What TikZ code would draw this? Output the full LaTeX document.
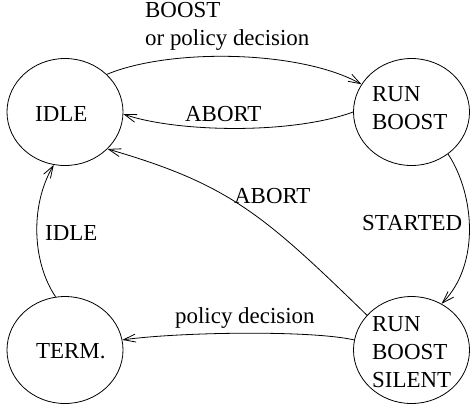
\documentclass[tikz,border=0pt]{standalone}
\usepackage{fontspec}
\setmainfont{Liberation Serif}
\usetikzlibrary{shapes.geometric,arrows.meta}
\begin{document}
\begin{tikzpicture}[x=1bp,y=-1bp,
  state/.style={draw, ellipse, minimum width=116bp, minimum height=107bp, inner sep=0pt, line width=0.8bp},
  lbl/.style={inner sep=0pt, font=\fontsize{23}{28}\selectfont, anchor=base west},
  edge/.style={draw, line width=0.8bp, -{Straight Barb[length=12bp,width=8bp]}}]
\useasboundingbox (0,0) rectangle (474,404);
\node[state] (idle) at (65,112) {};
\node[state] (rb) at (411.5,112) {};
\node[state] (term) at (65,350) {};
\node[state] (rbs) at (411.5,350) {};
\node[lbl] (idleT) at (35,121.7) {IDLE};
\node[lbl,align=left] (rbT) at (372,129) {RUN\\BOOST};
\node[lbl,align=left] (rbsT) at (372,387) {RUN\\BOOST\\SILENT};
\node[lbl] (termT) at (36,358) {TERM.};
\draw[edge] (idle.42) .. controls (170,48) and (300,50) .. (rb.151);
\draw[edge] (rb.180) .. controls (290,135) and (175,132) .. (idle.-2);
\draw[edge] (rb.-49) .. controls (475,195) and (480,265) .. (rbs.57);
\draw[edge] (rbs.142) .. controls (262,213) and (228,184) .. (idle.-41);
\draw[edge] (rbs.170) .. controls (310,330) and (180,332) .. (term.10);
\draw[edge] (term.100) .. controls (32,262) and (30,205) .. (idle.258);
\node[lbl,align=left] (l1) at (145,45) {BOOST\\or policy decision};
\node[lbl] (l2) at (185,121) {ABORT};
\node[lbl] (l3) at (234,203) {ABORT};
\node[lbl] (l4) at (362,230) {STARTED};
\node[lbl] (l5) at (45,240) {IDLE};
\node[lbl] (l6) at (175,323) {policy decision};
\end{tikzpicture}
\end{document}
